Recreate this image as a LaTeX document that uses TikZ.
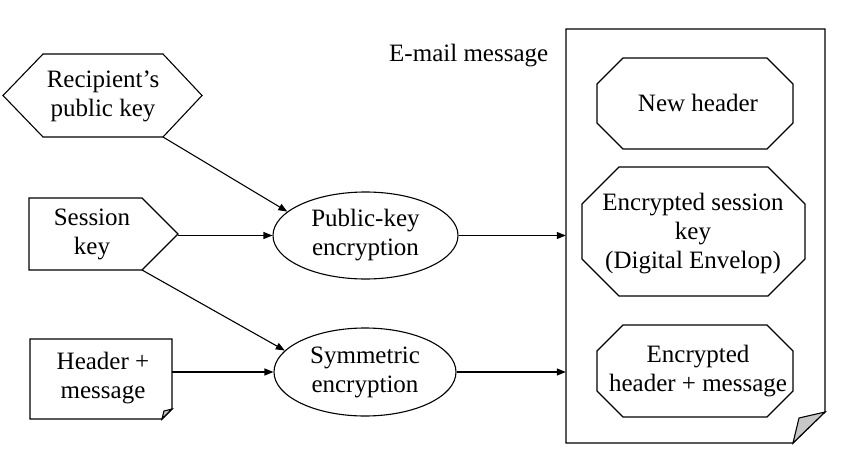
\documentclass[tikz,border=0pt]{standalone}
\usepackage{fontspec}
\setmainfont{Liberation Serif}
\usetikzlibrary{arrows.meta,shapes.geometric}
\begin{document}
\begin{tikzpicture}[x=1pt,y=-1pt,
  every node/.style={font=\fontsize{25}{29}\selectfont, align=center, inner sep=0pt},
  shapeline/.style={draw=black, line width=1.1pt, line join=miter},
  foldfill/.style={draw=black, line width=1.1pt, fill=black!22},
  arr/.style={draw=black, line width=1.1pt, -{Triangle[length=9pt,width=7pt]}},
  oval/.style={ellipse, draw=black, line width=1.1pt}]
\useasboundingbox (0,0) rectangle (859,452);
\fill[white] (0,0) rectangle (859,452);

% Recipient's public key (hexagon)
\draw[shapeline] (3,95.5) -- (43,54) -- (163,54) -- (202,95.5) -- (163,137) -- (43,137) -- cycle;
\node (rk) at (103,96) {Recipient’s\\public key};
\coordinate (rkout) at (163,137);

% Session key (pentagon)
\draw[shapeline] (29,198) -- (142,198) -- (178,234) -- (142,270) -- (29,270) -- cycle;
\node (sk) at (92,234) {Session\\key};
\coordinate (skout) at (178,235.5);
\coordinate (skout2) at (142,270);

% Header + message (document)
\draw[shapeline] (30,339) -- (172,339) -- (172,409) -- (162,419) -- (30,419) -- cycle;
\draw[foldfill] (172,409) -- (164,411) -- (162,419) -- cycle;
\node (hm) at (103,378) {Header +\\message};
\coordinate (hmout) at (172,372);

% Encryption ellipses
\node[oval, minimum width=185pt, minimum height=87pt] (pk) at (365.5,235.5) {Public-key\\encryption};
\node[oval, minimum width=182pt, minimum height=88pt] (sym) at (365,372) {Symmetric\\encryption};

% E-mail message page
\draw[shapeline] (566,29) -- (825,29) -- (825,412) -- (793,443) -- (566,443) -- cycle;
\draw[foldfill] (825,412) -- (799,418) -- (793,443) -- cycle;
\node[minimum width=259pt, minimum height=414pt] (page) at (695.5,236) {};
\node[anchor=base west] (mlabel) at (389,62) {E-mail message};

% New header
\draw[shapeline] (623,58) -- (767,58) -- (793,84) -- (793,123) -- (767,149) -- (623,149) -- (597,123) -- (597,84) -- cycle;
\node (nh) at (698,103) {New header};

% Encrypted session key
\draw[shapeline] (619,167) -- (768,167) -- (805,204) -- (805,259) -- (768,296) -- (619,296) -- (582,259) -- (582,204) -- cycle;
\node (esk) at (693,234) {Encrypted session\\key\\(Digital Envelop)};

% Encrypted header + message
\draw[shapeline] (623,325) -- (767,325) -- (793,351) -- (793,391) -- (767,417) -- (623,417) -- (597,391) -- (597,351) -- cycle;
\node (ehm) at (698,371) {Encrypted\\header + message};

% Connectors
\draw[arr] (rkout) -- (pk.163);
\draw[arr] (skout) -- (pk.west);
\draw[arr] (skout2) -- (sym.165);
\draw[arr] (hmout) -- (sym.west);
\draw[arr] (pk.east) -- (pk.east -| page.west);
\draw[arr] (sym.east) -- (sym.east -| page.west);
\end{tikzpicture}
\end{document}
